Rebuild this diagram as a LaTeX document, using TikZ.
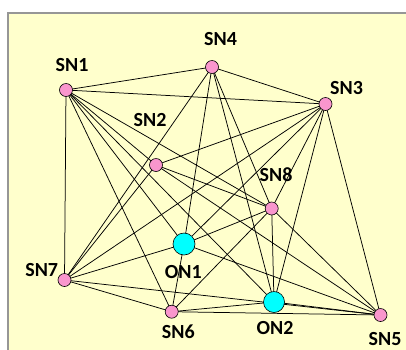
\documentclass[tikz,border=0pt]{standalone}
\usepackage{fontspec}
\setmainfont{Carlito}
\pgfdeclarelayer{bg}
\pgfdeclarelayer{edges}
\pgfsetlayers{bg,edges,main}
\definecolor{paper}{RGB}{255,255,204}
\definecolor{frame}{RGB}{150,150,150}
\definecolor{snpink}{RGB}{249,150,205}
\definecolor{oncyan}{RGB}{0,255,255}
\tikzset{
  sn/.style={circle,draw=black,line width=0.6pt,fill=snpink,minimum size=13pt,inner sep=0pt},
  on/.style={circle,draw=black,line width=0.6pt,fill=oncyan,minimum size=22pt,inner sep=0pt},
  lbl/.style={inner sep=0pt,font=\bfseries\fontsize{20}{20}\selectfont},
  link/.style={draw=black,line width=0.75pt}
}
\begin{document}
\begin{tikzpicture}[x=1pt,y=-1pt]
\useasboundingbox (0,0) rectangle (406,349);
\begin{pgfonlayer}{bg}
\draw[frame,line width=1.8pt,fill=paper] (8,13) rectangle (420,365);
\end{pgfonlayer}
% nodes
\node[sn] (sn1) at (66,90) {};
\node[sn] (sn4) at (212,67) {};
\node[sn] (sn3) at (325.5,104) {};
\node[sn] (sn2) at (156,165) {};
\node[sn] (sn8) at (271.7,208.5) {};
\node[on] (on1) at (184,244) {};
\node[sn] (sn7) at (64.5,280) {};
\node[sn] (sn6) at (171.7,311.7) {};
\node[on,minimum size=21pt] (on2) at (274,302) {};
\node[sn] (sn5) at (380.5,315) {};
% labels
\node[lbl] (l1) at (72,65.3) {SN1};
\node[lbl] (l4) at (220.5,39.2) {SN4};
\node[lbl] (l3) at (346.5,88.3) {SN3};
\node[lbl] (l2) at (150,120) {SN2};
\node[lbl] (l8) at (276,175) {SN8};
\node[lbl] (lo1) at (183.3,271.7) {ON1};
\node[lbl] (l7) at (41.7,270) {SN7};
\node[lbl] (l6) at (178.3,331.7) {SN6};
\node[lbl] (lo2) at (275,328.3) {ON2};
\node[lbl] (l5) at (385,338.5) {SN5};
% links
\begin{pgfonlayer}{edges}
\foreach \a/\b in {sn1/sn4, sn1/sn3, sn1/sn7, sn1/sn2, sn1/sn8, sn1/on1, sn1/sn6, sn1/on2,
  sn4/sn3, sn4/sn7, sn4/on1, sn4/sn8, sn4/on2,
  sn3/sn2, sn3/sn7, sn3/on1, sn3/sn8, sn3/on2, sn3/sn5,
  sn2/sn7, sn2/sn8, sn2/sn5,
  sn7/on1, sn7/sn6, sn7/sn5,
  sn8/on1, sn8/sn6, sn8/on2, sn8/sn5,
  on1/sn6, on1/sn5,
  sn6/on2, sn6/sn5,
  on2/sn5}
  \draw[link] (\a.center) -- (\b.center);
\end{pgfonlayer}
\end{tikzpicture}
\end{document}
